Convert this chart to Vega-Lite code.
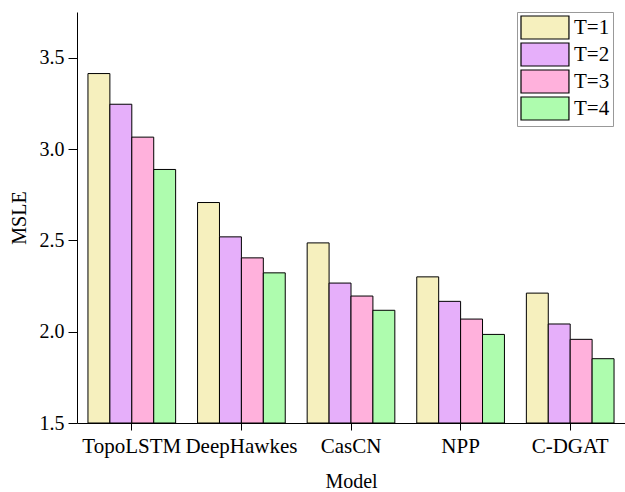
{
  "$schema": "https://vega.github.io/schema/vega-lite/v6.json",
  "autosize": "none",
  "padding": {"left": 77, "top": 12, "right": 0, "bottom": 69},
  "width": 548,
  "height": 411,
  "background": "white",
  "config": {
    "font": "Liberation Serif",
    "view": {"stroke": null},
    "axis": {"labelFont": "Liberation Serif", "titleFont": "Liberation Serif", "labelColor": "black", "titleColor": "black", "domainColor": "black", "tickColor": "black", "grid": false, "titleFontWeight": "normal"}
  },
  "data": {
    "values": [
      {"Model": "TopoLSTM", "T": "T=1", "MSLE": 3.413},
      {"Model": "TopoLSTM", "T": "T=2", "MSLE": 3.245},
      {"Model": "TopoLSTM", "T": "T=3", "MSLE": 3.065},
      {"Model": "TopoLSTM", "T": "T=4", "MSLE": 2.888},
      {"Model": "DeepHawkes", "T": "T=1", "MSLE": 2.707},
      {"Model": "DeepHawkes", "T": "T=2", "MSLE": 2.519},
      {"Model": "DeepHawkes", "T": "T=3", "MSLE": 2.404},
      {"Model": "DeepHawkes", "T": "T=4", "MSLE": 2.322},
      {"Model": "CasCN", "T": "T=1", "MSLE": 2.486},
      {"Model": "CasCN", "T": "T=2", "MSLE": 2.266},
      {"Model": "CasCN", "T": "T=3", "MSLE": 2.195},
      {"Model": "CasCN", "T": "T=4", "MSLE": 2.117},
      {"Model": "NPP", "T": "T=1", "MSLE": 2.300},
      {"Model": "NPP", "T": "T=2", "MSLE": 2.166},
      {"Model": "NPP", "T": "T=3", "MSLE": 2.069},
      {"Model": "NPP", "T": "T=4", "MSLE": 1.985},
      {"Model": "C-DGAT", "T": "T=1", "MSLE": 2.211},
      {"Model": "C-DGAT", "T": "T=2", "MSLE": 2.042},
      {"Model": "C-DGAT", "T": "T=3", "MSLE": 1.958},
      {"Model": "C-DGAT", "T": "T=4", "MSLE": 1.852}
    ]
  },
  "mark": {"type": "bar", "stroke": "black", "strokeWidth": 1, "clip": true},
  "encoding": {
    "x": {
      "field": "Model", "type": "nominal",
      "sort": ["TopoLSTM", "DeepHawkes", "CasCN", "NPP", "C-DGAT"],
      "scale": {"paddingInner": 0.2, "paddingOuter": 0.1},
      "axis": {"title": "Model", "labelAngle": 0, "labelFontSize": 21, "titleFontSize": 20, "tickSize": 7, "labelPadding": 5, "titlePadding": 15, "domainWidth": 1}
    },
    "xOffset": {"field": "T", "type": "nominal", "sort": ["T=1", "T=2", "T=3", "T=4"], "scale": {"paddingInner": 0, "paddingOuter": 0}},
    "y": {
      "field": "MSLE", "type": "quantitative",
      "scale": {"domain": [1.5, 3.75], "nice": false, "zero": false},
      "axis": {"title": "MSLE", "values": [1.5, 2.0, 2.5, 3.0, 3.5], "format": ".1f", "labelFontSize": 20, "titleFontSize": 20, "tickSize": 9, "labelPadding": 4, "titlePadding": 10}
    },
    "y2": {"datum": 1.5},
    "fill": {
      "field": "T", "type": "nominal",
      "scale": {"domain": ["T=1", "T=2", "T=3", "T=4"], "range": ["#f6f0be", "#e6affa", "#ffb1dc", "#aefcae"]},
      "legend": {
        "title": null, "orient": "none", "legendX": 440, "legendY": 0,
        "symbolType": "M-1,-1H3.17V1H-1Z", "symbolSize": 529,
        "symbolStrokeColor": "black", "symbolStrokeWidth": 1.2, "symbolOffset": 0,
        "labelFontSize": 21, "labelFont": "Liberation Serif", "labelColor": "black", "labelOffset": 29,
        "rowPadding": -3, "padding": 3, "strokeColor": "#999999", "fillColor": "white"
      }
    }
  }
}
